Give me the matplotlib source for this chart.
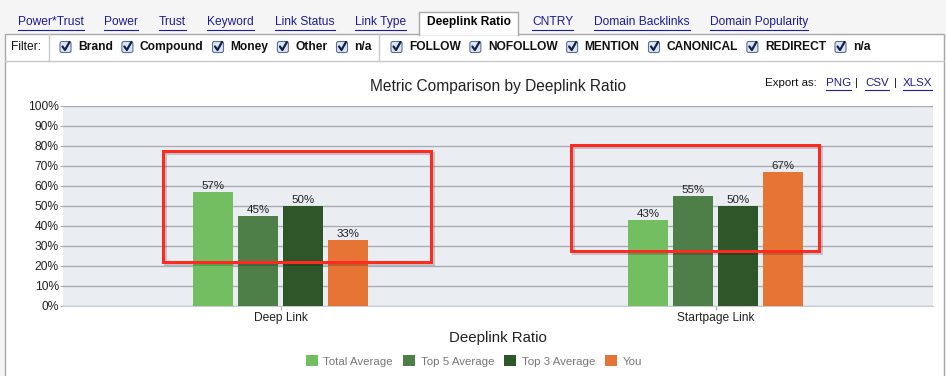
import matplotlib
matplotlib.use("Agg")
import matplotlib.pyplot as plt
from matplotlib.patches import Rectangle, FancyBboxPatch
import numpy as np

# ---------------- data ----------------
categories = ["Deep Link", "Startpage Link"]
series_names = ["Total Average", "Top 5 Average", "Top 3 Average", "You"]
total_average = [57, 43]
top5_average = [45, 55]
top3_average = [50, 50]
you = [33, 67]
y_ticks = [0, 10, 20, 30, 40, 50, 60, 70, 80, 90, 100]
tabs = ["Power*Trust", "Power", "Trust", "Keyword", "Link Status", "Link Type",
        "Deeplink Ratio", "CNTRY", "Domain Backlinks", "Domain Popularity"]
filter_group1 = ["Brand", "Compound", "Money", "Other", "n/a"]
filter_group2 = ["FOLLOW", "NOFOLLOW", "MENTION", "CANONICAL", "REDIRECT", "n/a"]
title = "Metric Comparison by Deeplink Ratio"
x_label = "Deeplink Ratio"

# ---------------- styles ----------------
colors = ["#72BE61", "#4F7F48", "#2E5628", "#E67435"]
FONT = ["Liberation Sans", "DejaVu Sans"]
plt.rcParams['font.family'] = FONT
LINK = "#1c1c9c"
W, H = 946, 376
px = 72 / 100  # px -> pt

fig = plt.figure(figsize=(W / 100, H / 100), dpi=100)
fig.patch.set_facecolor("#F5F5F5")

# background / UI overlay in pixel coords
ui = fig.add_axes([0, 0, 1, 1], zorder=0)
ui.set_xlim(0, W)
ui.set_ylim(H, 0)
ui.axis("off")

# container
ui.add_patch(Rectangle((5, 34), 939, 345, facecolor="white", edgecolor="#A8A8A8", lw=1))
# filter row separator
ui.plot([5, 944], [61, 61], color="#C8C8C8", lw=1)
for xv in (49, 379):
    ui.plot([xv, xv], [34, 61], color="#C8C8C8", lw=1)
# active tab
ui.add_patch(Rectangle((419, 12), 99, 23, facecolor="white", edgecolor="none"))
ui.plot([419, 419, 518, 518], [34.5, 12, 12, 34.5], color="#A8A8A8", lw=1)

# tabs
tab_x = [18, 104, 159, 207, 275, 355, 427, 532, 594, 710]
tab_texts = []
for name, x in zip(tabs, tab_x):
    active = name == "Deeplink Ratio"
    t = ui.text(x, 22, name, fontsize=12 * px, va="center", ha="left",
                color="black" if active else LINK,
                fontweight="bold" if active else "normal")
    if not active:
        tab_texts.append(t)

ui.text(11, 47, "Filter:", fontsize=12 * px, va="center", ha="left", color="#111111")

fig.canvas.draw()
renderer = fig.canvas.get_renderer()
inv = ui.transData.inverted()


def text_width(t):
    bb = t.get_window_extent(renderer)
    (xa, _), (xb, _) = inv.transform([(bb.x0, bb.y0), (bb.x1, bb.y1)])
    return xa, xb


def checkbox(x0):
    ui.add_patch(FancyBboxPatch((x0, 41.5), 11, 11,
                                boxstyle="round,pad=0,rounding_size=2",
                                facecolor="#D9E6F6", edgecolor="#5D6E8E", lw=0.8))
    cx = x0 + 5.5
    ui.plot([cx - 3, cx - 0.5, cx + 4], [46.5, 50, 42], color="#14204A",
            lw=1.6, solid_capstyle="round")


def filter_group(names, start):
    x = start
    for name in names:
        checkbox(x)
        t = ui.text(x + 18, 47, name, fontsize=12 * px, va="center", ha="left",
                    fontweight="bold", color="#111111")
        _, xb = text_width(t)
        x = xb + 9


filter_group(filter_group1, 60)
filter_group(filter_group2, 391)

# title & export
ui.text(498, 86, title, fontsize=15.5 * px, ha="center", va="center", color="#222222")
ui.text(765, 83, "Export as:", fontsize=11.5 * px, ha="left", va="center", color="#111111")
exp_texts = []
for lbl, x in (("PNG", 826), ("CSV", 865), ("XLSX", 903)):
    exp_texts.append(ui.text(x, 83, lbl, fontsize=11.5 * px, ha="left", va="center", color=LINK))
for x in (856, 895):
    ui.text(x, 83, "|", fontsize=11.5 * px, ha="center", va="center", color="#111111")

# x label
ui.text(498, 338, x_label, fontsize=15 * px, ha="center", va="center", color="#222222")

# ---------------- chart ----------------
L, R, T, B = 63, 933, 106, 306
ax = fig.add_axes([L / W, 1 - B / H, (R - L) / W, (B - T) / H], zorder=1)
ax.set_facecolor("#EAEEF3")
x = np.arange(len(categories))
step = 45 / 435
bw = 40 / 435
all_series = [total_average, top5_average, top3_average, you]
handles = []
for i, (vals, c, nm) in enumerate(zip(all_series, colors, series_names)):
    off = (i - 1.5) * step
    bars = ax.bar(x + off, vals, width=bw, color=c, label=nm, zorder=3)
    handles.append(bars)
    for xi, v in zip(x + off, vals):
        ax.text(xi, v + 0.5, f"{v}%", ha="center", va="bottom",
                fontsize=11.5 * px, color="#222222", zorder=4)
ax.set_xlim(-0.5, 1.5)
ax.set_ylim(0, 100)
ax.set_yticks(y_ticks)
ax.set_yticklabels([f"{v}%" for v in y_ticks], fontsize=12 * px, color="#222222")
ax.set_xticks(x)
ax.set_xticklabels(categories, fontsize=12 * px, color="#222222")
ax.tick_params(axis="y", length=2, color="#A9ADB3", pad=1)
ax.tick_params(axis="x", length=3, color="#A9ADB3", pad=1.5)
ax.yaxis.grid(True, color="#A9ADB3", lw=1)
ax.set_axisbelow(True)
for s in ("top", "right", "left"):
    ax.spines[s].set_visible(False)
ax.spines["bottom"].set_color("#C8CCD2")

leg = fig.legend(handles=handles, labels=series_names, loc="center",
                 bbox_to_anchor=(474 / W, 1 - 361 / H), ncol=4, frameon=False,
                 fontsize=11.5 * px, labelcolor="#777777", handlelength=1.0,
                 handleheight=1.0, handletextpad=0.5, columnspacing=0.9)

# ---------------- annotation overlay (red boxes) ----------------
ov = fig.add_axes([0, 0, 1, 1], zorder=5)
ov.set_xlim(0, W)
ov.set_ylim(H, 0)
ov.axis("off")
ov.patch.set_alpha(0)
boxes = [(163, 151, 431, 262), (571, 145, 819, 251)]
for x0, y0, x1, y1 in boxes:
    ov.add_patch(Rectangle((x0 + 1.5, y0 + 2), x1 - x0, y1 - y0, fill=False,
                           edgecolor="#000000", alpha=0.18, lw=3 * px))
    ov.add_patch(Rectangle((x0, y0), x1 - x0, y1 - y0, fill=False,
                           edgecolor="#FF2A1F", lw=3 * px))

# underlines for links
for t, yy in [(t, 29.5) for t in tab_texts] + [(t, 90) for t in exp_texts]:
    xa, xb = text_width(t)
    ui.plot([xa, xb], [yy, yy], color=LINK, lw=0.8)

fig.savefig("out.png", dpi=100, facecolor=fig.get_facecolor())
